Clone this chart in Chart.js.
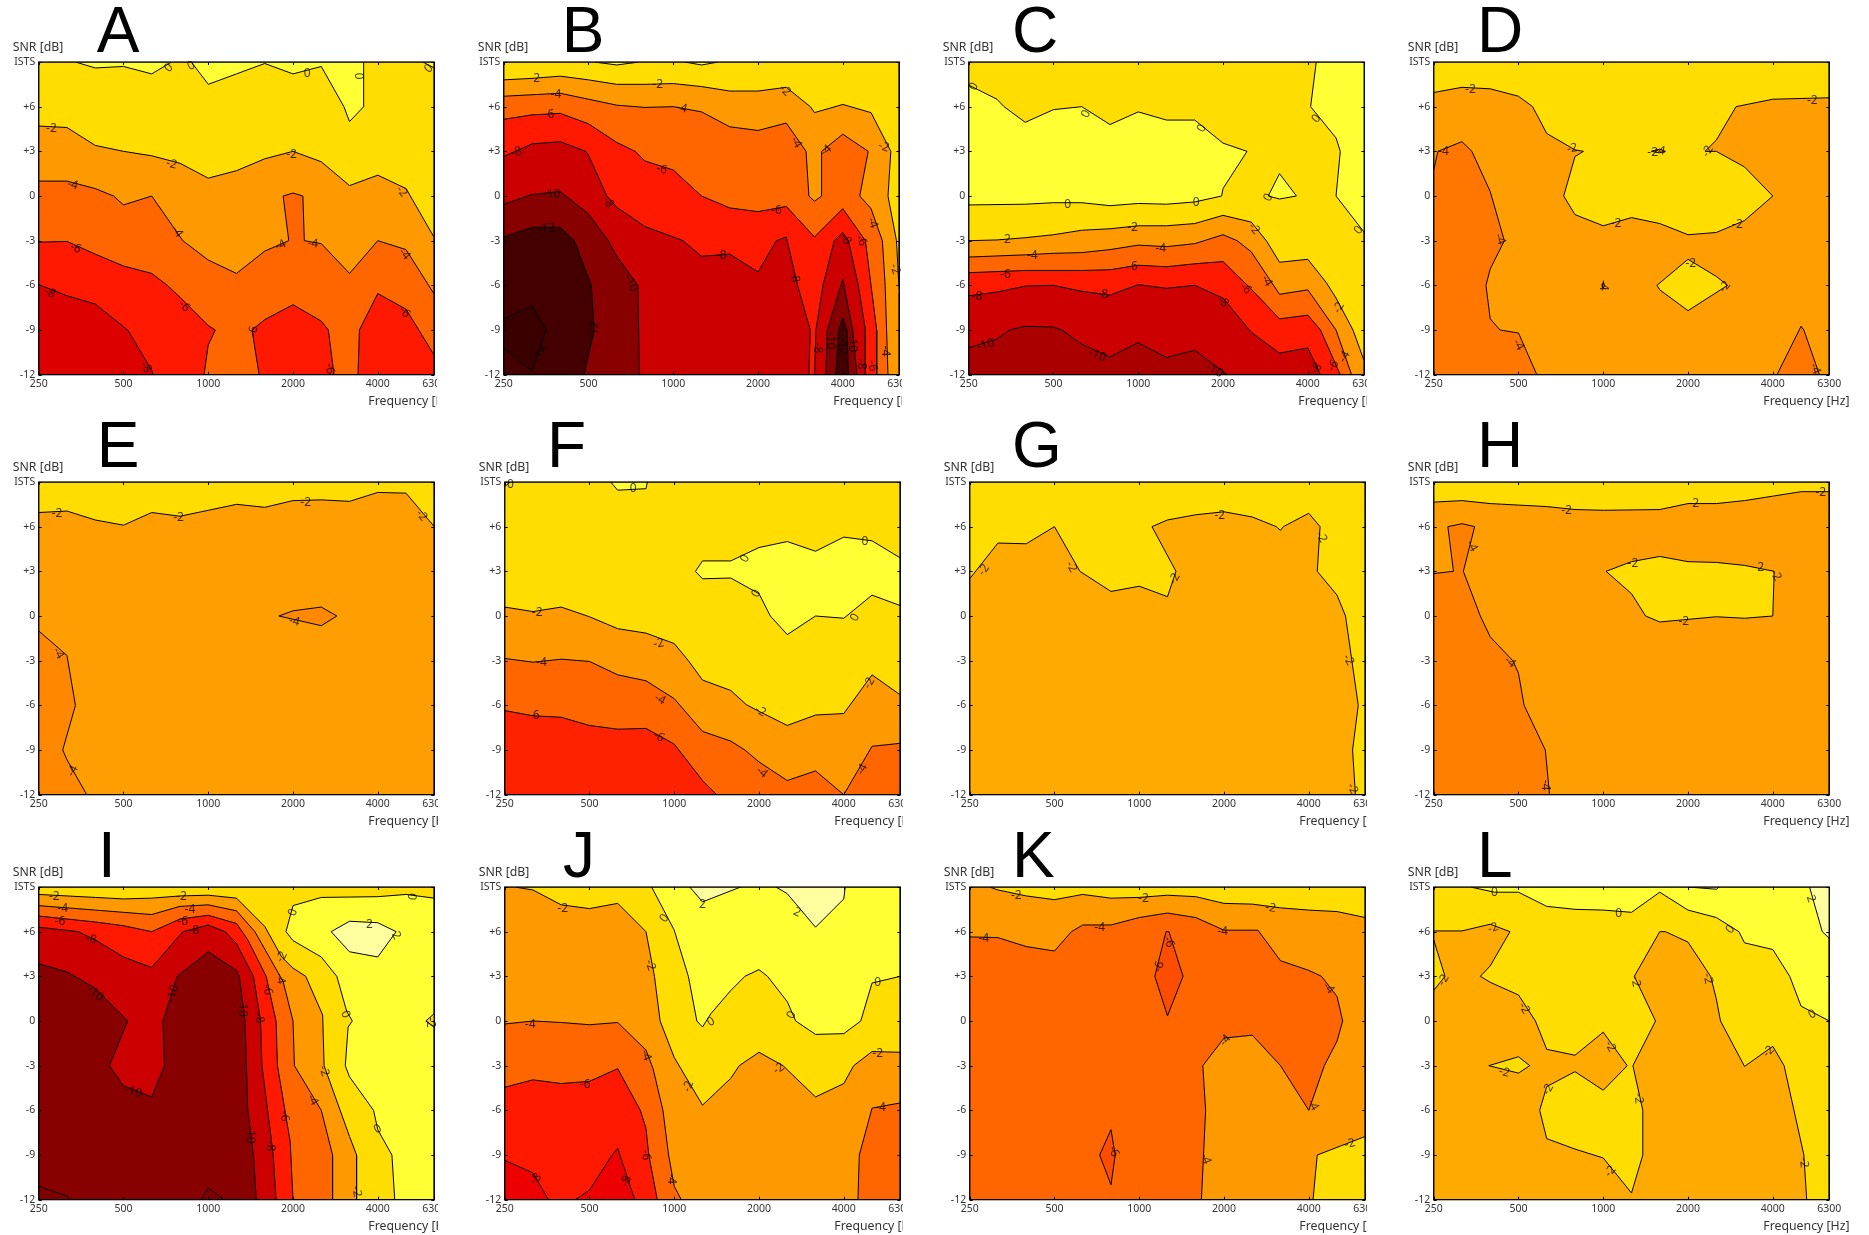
<!DOCTYPE html>
<html>
<head>
<meta charset="utf-8">
<title>SNR contours</title>
<script src="https://cdn.jsdelivr.net/npm/chart.js@4/dist/chart.umd.js"></script>
<style>
  body { margin: 0; background: #fff; width: 1869px; height: 1235px; overflow: hidden; position: relative; }
  canvas { position: absolute; }
</style>
</head>
<body>
<script>
// x values are 1/3-octave band indexes into bandLabels, y values are SNR in dB (ISTS is plotted at 9)
const bandLabels = [250, 315, 400, 500, 630, 800, 1000, 1250, 1600, 2000, 2500, 3150, 4000, 5000, 6300];
const xTickBands = [0, 3, 6, 9, 12, 14];
const snrTicks = [-12, -9, -6, -3, 0, 3, 6, 9];
const snrTickLabels = ['-12', '-9', '-6', '-3', '0', '+3', '+6', 'ISTS'];
const whole = [[0, 9], [14, 9], [14, -12], [0, -12]];

// each region: [band, outline]; the band is the lower contour level of the filled colour
const regionsA = [
  [0, whole],
  [-2, [[0,9],[1.3,9],[2,8.6],[3,8.7],[4,8.2],[4.7,9],[5.4,9],[6,7.5],[7,8.2],[8,8.9],[9,8.2],[10,8.7],[10.8,6],[11,5],[11.5,6],[11.5,9],[13.6,9],[14,8.6],[14,-12],[0,-12]]],
  [-4, [[0,4.7],[1,4.6],[2,3.4],[3,3],[4,2.7],[5,2.2],[6,1.2],[7,1.7],[8,2.5],[9,3],[10,2.3],[11,.7],[12,1.4],[13,.5],[14,-2.8],[14,-12],[0,-12]]],
  [-6, [[0,1],[1,1],[2,.5],[2.65,0],[3,-.6],[4,0],[5.1,-3],[6,-4.3],[7,-5.2],[8,-3.7],[8.85,-3],[8.65,0],[9,.2],[9.35,0],[9.4,-3],[10,-3.2],[11,-5.2],[12,-3],[13,-3.6],[14,-6.6],[14,-12],[0,-12]]],
  [-8, [[0,-3.1],[1,-3.05],[2,-3.9],[3,-4.7],[4,-5.2],[4.55,-6],[5,-6.8],[6,-8.7],[6.25,-9],[6,-10],[5.85,-12],[0,-12]]],
  [-8, [[7.8,-12],[7.55,-9],[8,-8.3],[9,-7.3],[10,-8.4],[10.25,-9],[10.45,-12]]],
  [-8, [[11.3,-12],[11.35,-9],[12,-6.55],[13,-7.6],[14,-10.7],[14,-12]]],
  [-10, [[0,-5.95],[1,-6.7],[2,-7.25],[3.15,-9],[4,-11.7],[4.05,-12],[0,-12]]],
];
const labelsA = [
  ['0',4.6,8.6,-45],['0',5.4,8.75,-30],['0',9.5,8.25,0],['0',11.4,8.05,-90],['0',13.8,8.55,-45],
  ['-2',.45,4.5,0],['-2',4.7,2.15,15],['-2',8.95,2.8,0],['-2',12.85,.3,50],
  ['-4',1.2,.75,15],['-4',4.9,-2.4,55],['-4',8.55,-3.3,-25],['-4',9.7,-3.2,5],['-4',12.95,-3.9,50],
  ['-6',1.3,-3.5,25],['-6',5.15,-7.4,45],['-6',7.6,-9.1,-80],['-6',10.3,-11.6,80],['-6',12.95,-7.8,50],
  ['-8',.4,-6.5,25],['-8',3.8,-11.5,60],
];
const regionsB = [
  [0, whole],
  [-2, [[0,9],[3.2,9],[4,8.8],[4.8,9],[6.4,9],[7,8.8],[7.6,9],[14,9],[14,-12],[0,-12]]],
  [-4, [[0,7.8],[1,7.9],[2,8.05],[3,7.8],[4,7.5],[5,7.5],[6,7.55],[7,7.35],[8,7.05],[9,7.05],[10,7.3],[10.85,6],[11,5.6],[12,6.15],[13,5.6],[13.7,3],[13.6,0],[13.9,-3],[14,-6.5],[14,-12],[0,-12]]],
  [-6, [[0,6.7],[1,6.8],[2,6.9],[3,6.5],[4,6.1],[5,5.95],[6,6],[7,5.65],[8,4.65],[9,4.4],[10,4.9],[10.7,3],[10.8,0],[11,-.35],[11.25,0],[11.25,3],[12,4.15],[12.9,3],[12.6,0],[13,-.85],[13.4,-3],[13.5,-6],[13.6,-12],[0,-12]]],
  [-8, [[0,5.15],[1,5.45],[2,5.55],[3,4.85],[4,3.6],[4.65,3],[5,2.35],[6,1.75],[7,0],[8,-.8],[9,-1.05],[10,-.7],[11,-2.75],[12,-.85],[12.8,-3],[13,-6],[13.2,-9],[13.2,-12],[0,-12]]],
  [-10, [[0,2.65],[1,3.5],[2,3.65],[2.9,3],[3,2.75],[3.65,0],[4,-.75],[5,-2.05],[6,-2.75],[6.35,-3],[7,-4.05],[8,-3.9],[9,-5.1],[9.65,-3],[10,-2.75],[10.4,-6],[10.85,-9],[10.8,-12],[0,-12]]],
  [-10, [[11,-12],[11.05,-9],[11.3,-6],[11.7,-3],[12,-2.45],[12.2,-3],[12.55,-6],[12.8,-9],[12.8,-12]]],
  [-12, [[0,-.55],[1,.1],[2,.3],[3,-1.2],[3.7,-3],[4,-4.05],[4.75,-6],[4.8,-12],[0,-12]]],
  [-12, [[11.4,-12],[11.45,-9],[12,-5.6],[12.35,-9],[12.5,-12]]],
  [-14, [[0,-2.75],[1,-2.1],[2,-2.1],[2.5,-3],[3.1,-6],[3.2,-9],[2.85,-12],[0,-12]]],
  [-14, [[11.75,-12],[11.85,-9],[12,-8.2],[12.15,-9],[12.2,-12]]],
  [-16, [[0,-8.25],[1,-7.4],[1.5,-9],[1,-11.75],[0,-10.2]]],
];
const labelsB = [
  ['-2',1.1,7.9,0],['-2',5.45,7.5,0],['-2',9.95,7.1,45],['-2',13.45,3.3,20],['-2',13.85,-4.9,70],
  ['-4',1.85,6.8,0],['-4',6.3,5.9,15],['-4',10.35,3.6,60],['-4',11.4,3.05,-40],['-4',13.05,-1.8,70],['-4',13.5,-10.4,90],
  ['-6',1.6,5.45,0],['-6',5.6,1.8,15],['-6',9.65,-.95,0],['-6',12.65,-3,60],['-6',13.05,-11.4,80],
  ['-8',.45,2.95,-15],['-8',3.7,-.4,60],['-8',7.7,-4,0],['-8',10.3,-5.45,80],['-8',11.1,-10.2,90],['-8',12.65,-11.3,90],['-8',12.1,-2.9,60],
  ['-10',1.7,.1,0],['-10',4.5,-5.85,65],['-10',11.55,-9.7,90],['-10',12.35,-9.9,90],
  ['-12',1.5,-2.2,0],['-12',3.2,-9,-80],['-12',12,-10.1,90],
  ['-14',1.3,-10.6,-65],
];
const regionsC = [
  [-2, whole],
  [0, [[12.3,9],[12.1,6],[13,3.9],[13.15,3],[13,0],[14,-2.45],[14,9]]],
  [0, [[0,7.45],[1,6.5],[1.25,6],[2,4.95],[3,5.8],[4,6],[5,4.8],[6,5.65],[7,5.1],[8,5.1],[9,3.55],[9.85,3],[9,.5],[8.95,0],[8,-.4],[7,-.55],[6,-.5],[5,-.65],[4,-.45],[3,-.45],[2,-.55],[0,-.6]]],
  [0, [[10.6,0],[11,1.5],[11.6,0],[11,-.2]]],
  [-4, [[0,-3],[1,-2.95],[2,-2.8],[3,-2.6],[4,-2.3],[5,-2.2],[6,-2],[7,-2],[8,-1.85],[9,-1.3],[10,-1.75],[10.55,-3.05],[11,-4.45],[12,-4.25],[12.65,-5.8],[13,-6.85],[13.6,-9],[14,-11.1],[14,-12],[0,-12]]],
  [-6, [[0,-4.1],[2,-3.95],[3,-3.85],[4,-3.8],[5,-3.6],[6,-3.3],[7,-3.4],[8,-3.2],[9,-2.6],[9.5,-3],[10,-3.75],[11,-6.6],[12,-6.3],[13,-9],[13.55,-12],[0,-12]]],
  [-8, [[0,-5.15],[2,-5],[4,-5],[5,-4.95],[6,-4.65],[7,-4.75],[8,-4.55],[9,-4.4],[10,-6.25],[11,-8.25],[12,-8],[12.45,-9],[13.15,-12],[0,-12]]],
  [-10, [[0,-6.7],[1,-6.45],[2,-6.05],[3,-6],[4,-6.4],[5,-6.65],[6,-5.95],[7,-6.2],[8,-6],[9,-6.85],[10,-9.15],[11,-10.55],[12,-10.2],[12.45,-12],[0,-12]]],
  [-12, [[0,-10.2],[1,-9.6],[1.45,-9],[2,-8.75],[3,-8.8],[3.3,-9],[4,-9.95],[5,-10.8],[6,-9.85],[7,-10.85],[8,-10.35],[9.15,-12],[0,-12]]],
];
const labelsC = [
  ['0',.18,7.35,-60],['0',4.15,5.5,-60],['0',8.25,4.55,-60],['0',3.5,-.6,0],['0',8.05,-.45,0],['0',10.6,-.1,-60],['0',12.3,5.2,-50],['0',13.8,-2.3,-50],
  ['-2',1.3,-2.95,0],['-2',5.8,-2.1,0],['-2',10.1,-2.2,50],['-2',13.1,-7.5,-60],
  ['-4',2.25,-4,0],['-4',6.8,-3.5,0],['-4',10.55,-5.7,60],['-4',13.3,-10.8,-60],
  ['-6',1.3,-5.25,0],['-6',5.8,-4.75,0],['-6',9.8,-6.2,45],['-6',12.9,-11.4,-60],
  ['-8',.3,-6.75,0],['-8',4.75,-6.65,0],['-8',9,-7.1,45],['-8',12.3,-11.6,-50],
  ['-10',.6,-10,-15],['-10',4.55,-10.7,20],['-10',8.7,-11.7,30],
];
const regionsD = [
  [-2, whole],
  [-4, [[0,6.95],[1,7.3],[2,7.2],[3,6.7],[3.5,6],[4,4.2],[5,3.1],[5.3,3],[5,2.65],[4.6,0],[5,-1.25],[6,-2],[7,-1.45],[8,-1.85],[9,-2.6],[10,-2.45],[11,-1.65],[12,0],[11,1.95],[10,3],[9.6,3],[10,3.75],[10.7,6],[12,6.5],[14,6.6],[14,-12],[0,-12]]],
  [-2, [[9,-4.25],[10,-5.4],[10.4,-6],[9,-7.7],[8,-6.3],[7.9,-6]]],
  [-4, [[7.7,3],[8,3.15],[8.2,3],[8,2.9]]],
  [-6, [[5.95,-6],[6,-5.8],[6.05,-6],[6,-6.2]]],
  [-6, [[0,1.75],[.15,3],[1,3.65],[1.35,3],[2,.3],[2.5,-3],[2,-4.9],[1.85,-6],[2,-8.25],[2.35,-9],[3,-9.2],[3.65,-12],[0,-12]]],
  [-6, [[12.15,-12],[13,-8.75],[13.1,-9],[13.65,-12]]],
];
const labelsD = [
  ['-2',1.3,7.15,0],['-2',4.9,3.2,-10],['-2',7.75,2.9,0],['-2',6.45,-1.85,0],['-2',10.75,-1.9,0],['-2',13.4,6.4,0],['-2',9.7,3,-60],['-2',9.1,-4.55,0],['-2',10.3,-6.1,-50],
  ['-4',.35,3,0],['-4',2.35,-2.9,70],['-4',3,-10,60],['-4',13.5,-11.6,70],['-4',8,3.05,10],['-4',6,-6,90],
];
const regionsE = [
  [-2, whole],
  [-4, [[0,6.95],[1,7.05],[2,6.45],[3,6.1],[4,6.95],[5,6.7],[6,7.1],[7,7.5],[8,7.3],[9,7.75],[10,7.8],[11,7.7],[12,8.3],[13,8.25],[14,6],[14,-12],[0,-12]]],
  [-6, [[0,-1],[1,-2.65],[1.3,-6],[.85,-9],[1,-9.65],[1.7,-12],[0,-12]]],
  [-6, [[8.5,0],[9,.35],[10,.6],[10.55,0],[10,-.65]]],
];
const labelsE = [
  ['-2',.65,6.9,0],['-2',4.95,6.6,0],['-2',9.45,7.6,0],['-2',13.55,6.75,50],
  ['-4',.7,-2.5,60],['-4',1.2,-10.4,-60],['-4',9.05,-.35,15],
];
const regionsF = [
  [-2, whole],
  [0, [[3.75,9],[4,8.45],[5,8.55],[5.05,9]]],
  [0, [[0,9],[.2,9],[0,8.7]]],
  [0, [[6.75,3],[7,3.7],[8,3.7],[9,4.6],[10,5],[11,4.35],[12,5.3],[13,5.05],[14,3.9],[14,.7],[13,1.4],[12,-.15],[11,0],[10,-1.25],[9.4,0],[9,1.5],[8,2.55],[7,2.5]]],
  [-4, [[0,.6],[1,.3],[2,.6],[3,-.05],[4,-.85],[5,-1.15],[6,-1.85],[6.5,-3],[7,-4.3],[8,-5],[8.55,-5.95],[9,-6.4],[10,-7.35],[11,-6.65],[12,-6.55],[13,-3.95],[14,-5.3],[14,-12],[0,-12]]],
  [-6, [[0,-2.85],[1,-3.1],[2,-2.9],[3,-3.05],[4,-3.95],[5,-4.35],[6,-5.55],[7,-7.75],[8,-8.4],[8.5,-9],[9,-9.8],[10,-11.05],[11,-10.4],[12,-12],[13,-8.75],[14,-8.55],[14,-12],[0,-12]]],
  [-8, [[0,-6.35],[1,-6.7],[2,-6.8],[3,-7.35],[4,-7.6],[5,-7.55],[6,-8.6],[7,-11.05],[7.5,-12],[0,-12]]],
];
const labelsF = [
  ['0',.2,8.8,0],['0',4.55,8.55,0],['0',8.5,3.85,-60],['0',12.75,5,0],['0',8.9,1.5,-60],['0',12.4,-.1,-60],
  ['-2',1.15,.25,0],['-2',5.45,-1.85,-10],['-2',9.05,-6.4,30],['-2',12.9,-4.5,-60],
  ['-4',1.3,-3.1,0],['-4',5.5,-5.6,30],['-4',9.1,-10.5,40],['-4',12.65,-10.3,-60],
  ['-6',1.05,-6.7,0],['-6',5.45,-8.1,30],
];
const regionsG = [
  [-2, whole],
  [-4, [[0,2.5],[1,4.9],[2,4.85],[3,6],[3.9,3],[5,1.65],[6,2],[7,1.3],[7.3,3],[6.45,6],[7,6.45],[8,6.8],[9,7],[10,6.65],[10.85,6],[11,5.75],[11.1,6],[12,6.9],[12.4,6],[12.3,3],[13,1.4],[13.3,0],[13.75,-6],[13.55,-9],[13.65,-12],[0,-12]]],
];
const labelsG = [
  ['-2',.5,3.1,-55],['-2',3.6,3.3,60],['-2',7.25,2.5,-60],['-2',8.85,6.75,0],['-2',12.45,5.3,60],['-2',13.4,-2.95,60],['-2',13.55,-11.6,60],
];
const regionsH = [
  [-2, whole],
  [-4, [[0,7.65],[1,7.75],[2,7.55],[3,7.45],[4,7.35],[5,7.15],[6,7.1],[8,7.15],[9,7.55],[10,7.55],[11,7.75],[12,8.05],[13,8.35],[14,8.35],[14,-12],[0,-12]]],
  [-2, [[6.1,3],[7,3.65],[8,4],[9,3.65],[10,3.6],[11,3.4],[12.05,3],[12,0],[11,-.15],[10,-.05],[8,-.4],[7.5,0],[7,1.5]]],
  [-6, [[0,2.85],[.7,3],[.5,6],[1,6.2],[1.45,6],[1.05,3],[1.65,0],[2,-1.4],[2.8,-3],[3,-3.85],[3.2,-6],[3.95,-9],[4.1,-12],[0,-12]]],
];
const labelsH = [
  ['-2',4.7,7.1,0],['-2',9.2,7.55,0],['-2',13.7,8.3,0],['-2',7.05,3.5,0],['-2',11.5,3.25,0],['-2',12.1,2.75,60],['-2',8.85,-.4,0],
  ['-4',1.35,4.7,60],['-4',2.7,-3.1,40],['-4',3.95,-11.35,90],
];
const regionsI = [
  [0, whole],
  [-2, [[0,9],[14,9],[14,8.25],[13,8.5],[12,8.35],[10,8.3],[9,7.75],[8.75,6],[9,5.4],[10,4.3],[10.55,3],[10.9,.65],[11.1,0],[10.95,-.4],[10.85,-3],[11,-3.75],[11.85,-6],[12,-7.3],[12.5,-9],[12.6,-12],[0,-12]]],
  [-2, [[14,.5],[13.7,0],[14,-.4]]],
  [2, [[10.35,6],[11,6.7],[12,6.6],[12.65,6],[12,4.3],[11,4.65]]],
  [-4, [[0,8.5],[2,8.3],[3,8.2],[4,8.25],[5,8.4],[6,8.45],[7,8.25],[8,6.35],[8.6,4.3],[9,3.55],[9.45,3],[10.05,.4],[10.1,-3],[11,-7.75],[11.25,-9],[11.25,-12],[0,-12]]],
  [-6, [[0,7.75],[2,7.45],[3,7.3],[4,7.15],[5,7.7],[6,7.8],[7,7.4],[7.65,6],[8.65,2.65],[9,0],[9.05,-3],[10,-6],[10.4,-9],[10.4,-12],[0,-12]]],
  [-8, [[0,7.05],[2,6.65],[3,6.4],[4,6],[5,6.85],[6,7.1],[7,6.55],[7.4,5.45],[8.05,3],[8.4,0],[8.45,-3],[8.9,-8.1],[9,-12],[0,-12]]],
  [-10, [[0,6.3],[1.4,6],[2,5.45],[3,4.3],[4,3.6],[5.1,6],[6,6.45],[6.6,6],[7,5.2],[7.6,3],[7.85,0],[7.9,-3],[8.1,-6],[8.3,-9],[8.4,-12],[0,-12]]],
  [-12, [[0,3.85],[1,3.3],[2,2.2],[3.15,0],[2.5,-3],[3,-4.35],[4,-5.1],[4.45,-3],[4.4,0],[4.9,3],[6,4.65],[7,3.4],[7.1,3],[7.3,0],[7.4,-6],[7.6,-9],[7.7,-12],[0,-12]]],
  [-14, [[0,-11.1],[1,-11.75],[1.1,-12],[0,-12]]],
  [-14, [[5.75,-12],[6,-11.2],[6.55,-12]]],
];
const labelsI = [
  ['-2',.55,8.35,0],['-2',5.05,8.35,0],['-2',8.6,4.3,-60],['-2',10.1,-3.35,70],['-2',11.25,-11.45,80],['-2',13.85,-.1,90],
  ['-4',.85,7.55,0],['-4',5.35,7.5,0],['-4',8.55,2.85,80],['-4',9.7,-5.3,60],
  ['-6',.75,6.7,0],['-6',5.1,6.65,0],['-6',8.1,2.1,80],['-6',8.7,-6.4,85],
  ['-8',1.85,5.5,15],['-8',5.5,6.05,0],['-8',7.8,.2,80],['-8',8.2,-8.4,85],
  ['-10',2,1.85,40],['-10',4.75,1.85,-75],['-10',7.2,.85,90],['-10',3.35,-4.75,15],['-10',7.5,-7.65,90],
  ['0',9,7.3,-70],['0',13.25,8.35,-80],['0',10.85,.45,70],['0',12,-7.25,-30],
  ['2',11.7,6.5,0],['2',12.65,5.75,60],
];
const regionsJ = [
  [0, whole],
  [2, [[6.55,9],[7,8],[8.35,9]]],
  [2, [[9.6,9],[10,8.55],[11,6.3],[12,8.2],[12.05,9]]],
  [-2, [[0,9],[5.2,9],[6,6.1],[6.5,3],[6.8,0],[7,-.4],[7.3,.5],[8,2.05],[8.5,3],[9,3.45],[9.3,3],[10,1.3],[10.3,0],[11,-.9],[12,-.85],[12.6,0],[13,2.55],[14,3],[14,-12],[0,-12]]],
  [-4, [[0,9],[.35,9],[1,8.8],[2,7.8],[3,7.55],[4,7.9],[5,6],[5.3,3],[5.5,0],[6,-2.45],[7,-5.65],[8,-3.85],[8.3,-3],[9,-2.1],[9.85,-3],[11,-5.1],[12,-4.2],[12.35,-3],[13,-2.05],[14,-2.1],[14,-12],[0,-12]]],
  [-6, [[0,-.2],[1,0],[2,-.1],[3,-.25],[4,-.1],[5,-1.95],[5.25,-3.2],[5.6,-6],[5.8,-9],[6,-11.1],[6.25,-12],[0,-12]]],
  [-6, [[12.5,-12],[12.55,-9],[13,-5.85],[14,-5.5],[14,-12]]],
  [-8, [[0,-4.45],[1,-3.95],[2,-4.2],[3,-4.05],[4,-3.2],[4.8,-6],[5,-7.2],[5.1,-9],[5.4,-12],[0,-12]]],
  [-10, [[0,-9.35],[1,-10.2],[1.55,-12],[0,-12]]],
  [-10, [[2.5,-12],[3,-11.35],[3.8,-9],[4,-8.55],[4.6,-12]]],
];
const labelsJ = [
  ['-2',2.05,7.55,0],['-2',5.15,3.75,70],['-2',6.5,-4.4,-70],['-2',9.7,-3.2,-35],['-2',13.2,-2.2,0],
  ['0',5.65,6.9,-55],['0',7.3,-.05,-30],['0',10.15,.4,-60],['0',13.2,2.55,0],
  ['2',7,7.85,0],['2',10.35,7.3,25],
  ['-4',.9,-.25,0],['-4',5,-2.3,70],['-4',5.9,-10.6,90],['-4',13.3,-5.8,0],
  ['-6',2.85,-4.25,0],['-6',5,-9,85],
  ['-8',1.1,-10.6,-50],['-8',4.3,-10.75,-70],
];
const regionsK = [
  [-2, whole],
  [-4, [[0,9],[.7,9],[1,8.8],[2,8.4],[3,8.15],[4,8.5],[5,8.25],[6,8.3],[7,8.45],[8,8.35],[9,7.9],[10,7.85],[11,7.6],[12,7.45],[13,7.35],[14,6.95],[14,-7.75],[12.3,-9],[12.15,-12],[0,-12]]],
  [-6, [[0,5.65],[1,5.6],[2,5],[3,4.7],[3.6,6],[4,6.45],[5,6.45],[6,6.95],[7,7.25],[8,6.95],[9,6.1],[10.2,6.1],[11,4.05],[12,3.4],[12.45,3],[13,1.65],[13.2,0],[13,-1.35],[12.55,-3],[12,-6],[11,-3],[10,-.95],[9,-1.15],[8.25,-3],[8.35,-6],[8.2,-12],[0,-12]]],
  [-8, [[6.95,6],[7.05,6],[7.55,3],[7,.35],[6.55,3]]],
  [-8, [[5,-7.3],[5.15,-9],[5,-11],[4.6,-9]]],
];
const labelsK = [
  ['-2',1.65,8.45,0],['-2',6.15,8.2,0],['-2',10.65,7.6,10],['-2',13.45,-8.25,-15],
  ['-4',.5,5.55,0],['-4',4.6,6.3,0],['-4',8.95,6,0],['-4',12.7,2.2,50],['-4',9.05,-1.3,-50],['-4',12.15,-5.65,60],['-4',8.35,-9.25,70],
  ['-6',7.05,5.3,70],['-6',6.7,3.65,-70],['-6',5.1,-8.75,70],
];
const regionsL = [
  [0, whole],
  [2, [[13.3,9],[13.75,6],[14,5.55],[14,9]]],
  [2, [[9,9],[10,8.85],[10.1,9]]],
  [-2, [[0,9],[1.3,9],[2.15,8.65],[3,8.65],[4,7.7],[5,7.5],[6,7.45],[7,7.3],[8,8.65],[9,7.45],[10,6.95],[10.8,6],[11,5.25],[12,4.8],[12.6,3],[13,1],[14,0],[14,-12],[0,-12]]],
  [-4, [[0,6.05],[1,6.05],[2,6.5],[2.7,6],[2,3.7],[1.65,3],[2,2.6],[3,1.75],[3.6,0],[4,-1.9],[5,-2.3],[6,-.75],[6.85,-3],[6,-4.65],[5,-3.4],[4,-4.4],[3.75,-6],[4,-7.9],[5,-8.6],[6,-9.2],[7,-11.55],[7.4,-9],[7.4,-6],[7.05,-3],[7.85,0],[7.1,3],[8,6],[8.2,6],[9,5.3],[9.8,3],[10,1.5],[10.15,0],[11,-3.05],[12,-1.7],[12.4,-3],[13.1,-9],[13.2,-12],[0,-12]]],
  [-2, [[0,5.45],[.4,3],[0,2.05]]],
  [-2, [[1.95,-3],[3,-2.4],[3.4,-3],[3,-3.5]]],
];
const labelsL = [
  ['0',2.15,8.6,0],['0',6.55,7.2,0],['0',10.5,6.15,-50],['0',13.4,.45,-30],
  ['2',13.35,8.2,70],
  ['-2',2.1,6.25,-20],['-2',.35,2.75,-60],['-2',3.2,.85,60],['-2',6.25,-1.7,60],['-2',7.15,2.65,80],['-2',9.7,2.85,80],['-2',11.85,-2.05,-45],['-2',4.05,-4.6,-60],['-2',7.25,-5.2,85],['-2',6.25,-10.1,-50],['-2',13.1,-9.5,85],['-2',2.5,-3.45,15],
];

// the colormap was rescaled for each panel, so the band colours differ a little
const paletteA = { 0: '#ffff33', '-2': '#ffdd00', '-4': '#ff9900', '-6': '#ff6600', '-8': '#ff1900', '-10': '#dd0000' };
const paletteB = { 0: '#ffff33', '-2': '#ffdd00', '-4': '#ff9900', '-6': '#ff6600', '-8': '#ff1900', '-10': '#cc0000', '-12': '#880000', '-14': '#440000', '-16': '#3a0000' };
const paletteC = { 0: '#ffff33', '-2': '#ffdd00', '-4': '#ff9900', '-6': '#ff6600', '-8': '#ff1900', '-10': '#cc0000', '-12': '#aa0000' };
const paletteD = { '-2': '#ffdd00', '-4': '#ff9e00', '-6': '#ff7700' };
const paletteE = { '-2': '#ffdd00', '-4': '#ff9e00', '-6': '#ff8800' };
const paletteF = { 0: '#ffff33', '-2': '#ffdd00', '-4': '#ff9900', '-6': '#ff6600', '-8': '#ff2200' };
const paletteG = { '-2': '#ffdd00', '-4': '#ffaa00' };
const paletteH = { '-2': '#ffdd00', '-4': '#ff9e00', '-6': '#ff8000' };
const paletteI = { 2: '#ffffa0', 0: '#ffff33', '-2': '#ffdd00', '-4': '#ff9900', '-6': '#ff6600', '-8': '#ff1900', '-10': '#cc0000', '-12': '#880000', '-14': '#800000' };
const paletteJ = { 2: '#ffffa0', 0: '#ffff33', '-2': '#ffdd00', '-4': '#ff9900', '-6': '#ff6600', '-8': '#ff1900', '-10': '#ee0000' };
const paletteK = { '-2': '#ffdd00', '-4': '#ff9900', '-6': '#ff6600', '-8': '#ff4d00' };
const paletteL = { 2: '#ffffa0', 0: '#ffff33', '-2': '#ffdd00', '-4': '#ffaa00' };

const panels = [
  { name: 'A', left: 0, top: 0, width: 437, dx: 0, plotTop: 62, letterX: 96.7, regions: regionsA, labels: labelsA, palette: paletteA },
  { name: 'B', left: 465, top: 0, width: 437, dx: 0, plotTop: 62, letterX: 96.7, regions: regionsB, labels: labelsB, palette: paletteB },
  { name: 'C', left: 930, top: 0, width: 437, dx: 0, plotTop: 62, letterX: 82, regions: regionsC, labels: labelsC, palette: paletteC },
  { name: 'D', left: 1395, top: 0, width: 474, dx: 0, plotTop: 62, letterX: 82, regions: regionsD, labels: labelsD, palette: paletteD },
  { name: 'E', left: 0, top: 415, width: 438, dx: 0, plotTop: 67, letterX: 96.7, regions: regionsE, labels: labelsE, palette: paletteE },
  { name: 'F', left: 465, top: 415, width: 438, dx: 1, plotTop: 67, letterX: 82, regions: regionsF, labels: labelsF, palette: paletteF },
  { name: 'G', left: 930, top: 415, width: 437, dx: 1, plotTop: 67, letterX: 82, regions: regionsG, labels: labelsG, palette: paletteG },
  { name: 'H', left: 1395, top: 415, width: 474, dx: 0, plotTop: 67, letterX: 82, regions: regionsH, labels: labelsH, palette: paletteH },
  { name: 'I', left: 0, top: 825, width: 438, dx: 0, plotTop: 62, letterX: 98, regions: regionsI, labels: labelsI, palette: paletteI },
  { name: 'J', left: 465, top: 825, width: 438, dx: 1, plotTop: 62, letterX: 98, regions: regionsJ, labels: labelsJ, palette: paletteJ },
  { name: 'K', left: 930, top: 825, width: 437, dx: 1, plotTop: 62, letterX: 82, regions: regionsK, labels: labelsK, palette: paletteK },
  { name: 'L', left: 1395, top: 825, width: 474, dx: 0, plotTop: 62, letterX: 82, regions: regionsL, labels: labelsL, palette: paletteL },
];

const tickFont = { family: '"Noto Sans"', size: 10.5 };
const inkColor = '#333';

// frame, inward ticks, contour labels and the fixed captions
const panelDecor = {
  id: 'panelDecor',
  afterDatasetsDraw(chart, args, opts) {
    const { ctx, chartArea: a, scales } = chart;
    ctx.save();
    ctx.strokeStyle = '#000';
    ctx.lineWidth = 1;
    ctx.beginPath();
    xTickBands.forEach(b => {
      const x = Math.round(scales.x.getPixelForValue(b)) + 0.5;
      ctx.moveTo(x, a.top); ctx.lineTo(x, a.top + 3);
      ctx.moveTo(x, a.bottom); ctx.lineTo(x, a.bottom - 3);
    });
    snrTicks.forEach(v => {
      const y = Math.round(scales.y.getPixelForValue(v)) + 0.5;
      ctx.moveTo(a.left, y); ctx.lineTo(a.left + 3, y);
      ctx.moveTo(a.right, y); ctx.lineTo(a.right - 3, y);
    });
    ctx.stroke();
    ctx.lineWidth = 1.2;
    ctx.strokeRect(a.left, a.top, a.right - a.left, a.bottom - a.top);

    ctx.fillStyle = 'rgba(0,0,0,0.75)';
    ctx.font = '12px "Noto Sans"';
    ctx.textAlign = 'center';
    ctx.textBaseline = 'middle';
    opts.labels.forEach(([text, bx, snr, angle]) => {
      ctx.save();
      ctx.translate(scales.x.getPixelForValue(bx), scales.y.getPixelForValue(snr));
      ctx.rotate(angle * Math.PI / 180);
      ctx.fillText(text, 0, 0);
      ctx.restore();
    });

    ctx.fillStyle = inkColor;
    ctx.textAlign = 'left';
    ctx.font = '12.3px "Noto Sans"';
    ctx.fillText('SNR [dB]', a.left - 26, a.top - 14.5);
    ctx.fillText('Frequency [Hz]', a.right - 66, a.bottom + 27);
    ctx.fillStyle = '#000';
    ctx.textBaseline = 'alphabetic';
    ctx.font = '64px "Liberation Sans"';
    ctx.fillText(opts.letter, opts.letterX, 52);
    ctx.restore();
  }
};

panels.forEach(p => {
  const canvas = document.createElement('canvas');
  const height = p.top === 825 ? 410 : 415;
  canvas.width = p.width;
  canvas.height = height;
  canvas.style.left = p.left + 'px';
  canvas.style.top = p.top + 'px';
  document.body.appendChild(canvas);

  const plotLeft = 38.7 + p.dx;
  const plotRight = 434.3 + p.dx;
  const plotBottom = p.plotTop + 312.7;
  const xAxisHeight = 20;

  new Chart(canvas.getContext('2d'), {
    type: 'scatter',
    data: {
      datasets: p.regions.map(([band, outline], i) => ({
        data: outline.concat([outline[0]]).map(([x, y]) => ({ x, y })),
        showLine: true,
        fill: 'shape',
        backgroundColor: p.palette[band],
        borderColor: '#000',
        borderWidth: 1,
        pointRadius: 0,
        tension: 0,
        order: -i
      }))
    },
    options: {
      responsive: false,
      animation: false,
      events: [],
      layout: {
        padding: { left: 0, top: p.plotTop, right: p.width - plotRight, bottom: height - plotBottom - xAxisHeight }
      },
      plugins: {
        legend: { display: false },
        tooltip: { enabled: false },
        panelDecor: { labels: p.labels, letter: p.name, letterX: p.letterX }
      },
      scales: {
        x: {
          type: 'linear',
          min: 0,
          max: 14,
          afterBuildTicks(axis) { axis.ticks = xTickBands.map(value => ({ value })); },
          afterFit(axis) { axis.height = xAxisHeight; axis.paddingLeft = 0; axis.paddingRight = 0; },
          grid: { display: false, drawTicks: false },
          border: { display: false },
          ticks: {
            autoSkip: false,
            maxRotation: 0,
            padding: 3,
            color: inkColor,
            font: tickFont,
            callback: v => bandLabels[v]
          }
        },
        y: {
          type: 'linear',
          min: -12,
          max: 9,
          afterBuildTicks(axis) { axis.ticks = snrTicks.map(value => ({ value })); },
          afterFit(axis) { axis.width = plotLeft; axis.paddingTop = 0; axis.paddingBottom = 0; },
          grid: { display: false, drawTicks: false },
          border: { display: false },
          ticks: {
            autoSkip: false,
            padding: 3.5,
            color: inkColor,
            font: tickFont,
            callback: v => snrTickLabels[snrTicks.indexOf(v)]
          }
        }
      }
    },
    plugins: [panelDecor]
  });
});
</script>
</body>
</html>
